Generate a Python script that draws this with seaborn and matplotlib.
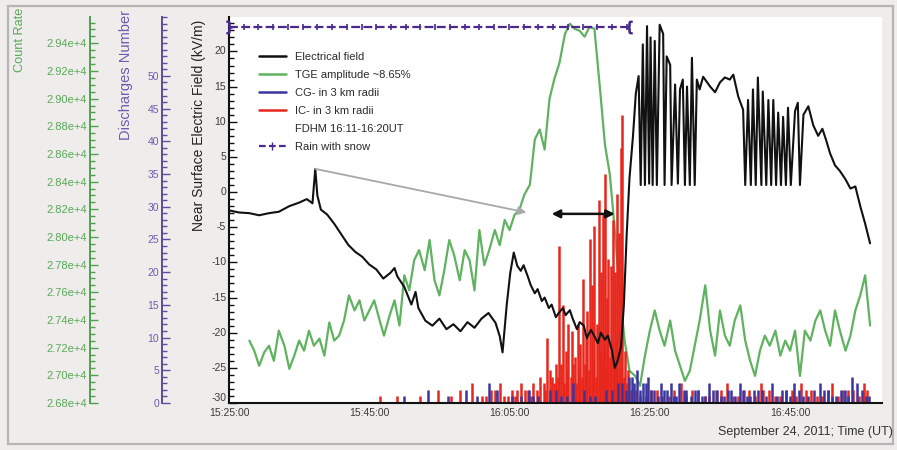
import matplotlib
matplotlib.use("Agg")
import numpy as np
import pandas as pd
import matplotlib.pyplot as plt
import matplotlib.transforms as mtransforms
from matplotlib.lines import Line2D
from matplotlib.patches import Rectangle
from matplotlib.ticker import MultipleLocator, FuncFormatter
import seaborn as sns

sns.set_theme(style="white")
plt.rcParams["font.family"] = ["Liberation Sans", "DejaVu Sans"]
plt.rcParams["axes.unicode_minus"] = False

# ---------------------------------------------------------------- data
T0 = "15:25:00"
time_ticks = ["15:25:00", "15:45:00", "16:05:00", "16:25:00", "16:45:00"]

# near-surface electric field (kV/m); time in minutes after 15:25 UT
ef_t = [0.0, 1.4, 2.9, 4.3, 5.7, 7.1, 8.6, 10.0, 11.1, 11.9, 12.3, 12.6, 13.1, 14.0,
        15.0, 16.0, 17.0, 18.0, 19.0, 20.0, 21.0, 22.0, 23.0, 23.6, 24.0, 25.0, 26.0,
        26.6, 27.0, 28.0, 29.0, 30.0, 31.0, 32.0, 33.0, 34.0, 35.0, 36.0, 37.0, 38.0,
        38.6, 39.0, 39.6, 40.1, 40.6, 41.1, 41.6, 42.0, 42.6, 43.0, 43.6, 44.0, 44.6,
        45.0, 45.6, 46.0, 46.6, 47.0, 47.6, 48.0, 48.6, 49.0, 49.6, 50.0, 50.6, 51.0,
        51.6, 52.0, 52.6, 53.0, 53.6, 54.0, 54.6, 55.0, 55.4, 55.9, 56.3, 56.7, 57.1,
        57.6, 58.0, 58.4, 58.7, 59.0, 59.3, 59.6, 59.9, 60.1, 60.4, 60.7, 61.0, 61.4,
        61.9, 62.1, 62.4, 62.9, 63.1, 63.6, 64.0, 64.3, 64.7, 65.0, 65.3, 65.7, 66.0,
        66.4, 66.7, 67.1, 67.6, 68.6, 69.3, 70.0, 70.7, 71.4, 71.9, 72.6, 73.3, 73.6,
        74.0, 74.4, 74.7, 75.1, 75.4, 75.9, 76.1, 76.6, 76.9, 77.3, 77.6, 78.0, 78.3,
        78.7, 79.0, 79.4, 79.7, 80.1, 80.7, 81.1, 81.4, 81.9, 82.6, 83.3, 84.0, 84.6,
        85.1, 85.7, 86.4, 87.1, 87.9, 88.6, 89.3, 90.0, 90.7, 91.4]
ef_v = [-2.6, -2.9, -3.0, -3.3, -3.0, -2.8, -2.0, -1.5, -1.0, -1.6, 3.3, -0.5, -2.5, -3.2,
        -4.5, -6.0, -7.5, -8.5, -9.2, -10.3, -11.0, -12.3, -11.5, -10.8, -12.0, -13.5, -16.0,
        -14.2, -16.5, -18.3, -19.0, -18.0, -19.5, -18.8, -19.8, -18.5, -19.3, -18.0, -17.2, -18.6,
        -20.5, -22.8, -16.0, -11.5, -8.6, -10.5, -11.2, -10.4, -12.0, -13.2, -14.4, -13.8, -15.5,
        -15.0, -16.5, -16.0, -17.8, -17.2, -16.5, -17.5, -16.8, -18.0, -19.5, -18.5, -19.0, -20.8,
        -19.6, -20.3, -21.5, -20.0, -21.0, -20.4, -22.5, -25.0, -24.0, -22.0, -16.0, -6.0, 2.0,
        8.0, 14.0, 16.5, 1.0, 21.0, 1.0, 23.6, 1.2, 22.0, 1.0, 21.5, 1.0, 23.8,
        22.5, 1.0, 19.3, 18.1, 1.0, 15.3, 1.2, 14.6, 16.0, 1.0, 15.0, 1.0, 19.1,
        1.0, 16.0, 14.6, 16.4, 15.0, 14.2, 15.6, 16.3, 16.0, 16.7, 13.6, 11.7, 1.0,
        13.1, 1.0, 14.6, 1.0, 16.3, 1.0, 14.3, 1.0, 13.1, 1.0, 13.1, 1.0, 11.3,
        1.0, 10.7, 1.0, 12.0, 1.0, 11.5, 12.7, 1.0, 11.0, 12.2, 9.5, 8.0, 9.0,
        7.5, 5.5, 3.8, 3.0, 1.8, 0.5, 0.8, -2.0, -4.5, -7.3]

# TGE count rate
tge_t = [2.9, 3.6, 4.3, 5.0, 5.7, 6.4, 7.1, 7.9, 8.6, 9.3, 10.0, 10.7, 11.4, 12.1, 12.9,
         13.6, 14.3, 15.0, 15.7, 16.4, 17.1, 17.9, 18.6, 19.3, 20.0, 20.7, 21.4, 22.1, 22.9,
         23.6, 24.3, 25.0, 25.7, 26.4, 27.1, 27.9, 28.6, 29.3, 30.0, 30.7, 31.4, 32.1, 32.9,
         33.6, 34.3, 35.0, 35.7, 36.4, 37.1, 37.9, 38.6, 39.3, 40.0, 40.7, 41.4, 42.1, 42.9,
         43.6, 44.3, 45.0, 45.7, 46.4, 47.1, 47.9, 48.6, 49.3, 50.0, 50.7, 51.4, 52.1, 52.9,
         53.6, 54.3, 55.0, 55.7, 56.4, 57.1, 57.9, 58.6, 59.3, 60.0, 60.7, 61.4, 62.1, 62.9,
         63.6, 64.3, 65.0, 65.7, 66.4, 67.1, 67.9, 68.6, 69.3, 70.0, 70.7, 71.4, 72.1, 72.9,
         73.6, 74.3, 75.0, 75.7, 76.4, 77.1, 77.9, 78.6, 79.3, 80.0, 80.7, 81.4, 82.1, 82.9,
         83.6, 84.3, 85.0, 85.7, 86.4, 87.1, 87.9, 88.6, 89.3, 90.0, 90.7, 91.4]
tge_counts = [27251, 27178, 27069, 27164, 27214, 27105, 27323, 27214, 27047, 27142, 27251,
              27178, 27323, 27214, 27265, 27142, 27382, 27251, 27287, 27396, 27578, 27469,
              27542, 27396, 27469, 27542, 27411, 27287, 27433, 27542, 27360, 27723, 27614,
              27832, 27905, 27760, 27978, 27687, 27578, 27760, 27978, 27869, 27687, 27905,
              27832, 27614, 28050, 27796, 27905, 28050, 27941, 28123, 28050, 28159, 28196,
              28305, 28378, 28705, 28777, 28632, 29000, 29145, 29255, 29468, 29541, 29504,
              29490, 29447, 29519, 29504, 29068, 28668, 28450, 28050, 27614, 27251, 27033,
              26996, 26924, 27142, 27323, 27469, 27323, 27214, 27396, 27178, 27069, 26960,
              27033, 27214, 27396, 27651, 27323, 27142, 27469, 27287, 27214, 27396, 27505,
              27251, 27105, 26996, 27178, 27287, 27214, 27323, 27142, 27251, 27178, 27323,
              26996, 27323, 27251, 27396, 27469, 27323, 27214, 27469, 27323, 27178, 27287,
              27469, 27578, 27723, 27360]

# cloud-to-ground discharges within 3 km
cg_t = [25.0, 28.4, 31.2, 33.8, 35.4, 37.0, 38.2, 40.4, 41.6, 42.8, 43.4, 44.0, 45.8,
        46.6, 47.4, 48.2, 49.0, 50.6, 51.4, 52.2, 53.8, 54.6, 55.4, 56.0, 56.6, 57.0,
        57.4, 57.8, 58.2, 58.6, 59.0, 59.4, 59.8, 60.2, 60.6, 61.1, 61.6, 62.0, 62.4,
        63.0, 63.4, 63.8, 64.2, 64.8, 65.2, 65.8, 66.4, 66.9, 67.4, 67.9, 68.4, 69.0,
        69.6, 70.1, 70.6, 71.1, 71.6, 72.2, 72.8, 73.3, 73.8, 74.3, 74.8, 75.4, 76.0,
        76.6, 77.4, 78.2, 78.8, 79.4, 80.0, 80.6, 81.2, 81.8, 82.6, 83.4, 84.2, 84.8,
        85.4, 86.0, 86.6, 87.2, 87.8, 88.3, 88.8, 89.6, 90.2, 90.8, 91.2]
cg_n = [1, 2, 1, 2, 1, 3, 2, 1, 1, 2, 1, 1, 2,
        2, 1, 1, 3, 2, 1, 1, 2, 2, 3, 3, 2, 4,
        4, 3, 5, 2, 3, 3, 4, 2, 2, 1, 3, 2, 2,
        3, 1, 1, 3, 2, 2, 1, 2, 2, 1, 1, 3, 2,
        2, 1, 1, 2, 2, 1, 3, 2, 1, 1, 2, 2, 2,
        1, 3, 1, 2, 2, 1, 3, 2, 1, 1, 2, 3, 2,
        2, 1, 1, 2, 2, 1, 4, 3, 2, 1, 1]

# intracloud discharges within 3 km
ic_t = [21.5, 24.0, 27.2, 29.8, 31.6, 33.0, 34.6, 36.0, 36.6, 37.4, 37.9, 38.6, 39.2,
        39.8, 40.3, 40.8, 41.0, 41.6, 42.2, 42.6, 43.0, 43.4, 43.9, 44.4, 44.9, 45.1,
        45.4, 45.7, 46.0, 46.3, 46.6, 46.9, 47.1, 47.3, 47.6, 47.8, 48.0, 48.2, 48.4,
        48.7, 48.9, 49.1, 49.3, 49.5, 49.7, 49.9, 50.1, 50.3, 50.4, 50.7, 50.9, 51.1,
        51.3, 51.4, 51.7, 51.9, 52.1, 52.3, 52.4, 52.7, 52.9, 53.0, 53.1, 53.3, 53.5,
        53.6, 53.8, 53.9, 54.1, 54.3, 54.4, 54.7, 54.9, 55.0, 55.2, 55.3, 55.6, 55.8,
        55.9, 56.1, 56.3, 56.4, 56.7, 56.9, 57.3, 58.0, 58.6, 59.5, 60.2, 61.0, 61.8,
        62.8, 63.4, 64.5, 65.2, 66.0, 66.8, 67.8, 68.4, 69.4, 70.2, 71.0, 71.8, 72.5,
        73.4, 74.2, 75.0, 75.8, 76.2, 77.0, 77.8, 78.6, 79.4, 80.2, 80.8, 81.5, 82.2,
        83.0, 83.8, 84.6, 85.4, 86.0, 86.8, 87.5, 88.2, 89.0, 89.8, 90.5, 91.0]
ic_n = [1, 1, 1, 2, 1, 2, 3, 1, 1, 2, 2, 3, 1,
        1, 2, 1, 2, 3, 2, 2, 1, 3, 2, 4, 3, 2,
        10, 5, 4, 3, 6, 4, 24, 6, 15, 3, 8, 5, 12,
        4, 11, 6, 7, 3, 12, 5, 9, 4, 19, 6, 10, 14,
        5, 25, 18, 7, 27, 4, 12, 31, 8, 20, 6, 29, 9,
        35, 5, 16, 22, 7, 21, 28, 6, 20, 10, 32, 26, 5,
        39, 44, 4, 8, 3, 5, 2, 2, 1, 1, 2, 2, 1,
        1, 2, 3, 1, 2, 2, 1, 1, 2, 2, 3, 1, 1,
        2, 2, 1, 3, 2, 2, 1, 1, 2, 2, 1, 3, 2,
        2, 1, 1, 2, 3, 1, 2, 2, 2, 1, 3, 2]

rain_span = ["15:25:00", "16:22:00"]
fdhm_span = ["16:11:00", "16:20:00"]

legend_labels = ["Electrical field", "TGE amplitude ~8.65%", "CG- in 3 km radii",
                 "IC- in 3 km radii", "FDHM 16:11-16:20UT", "Rain with snow"]


def to_min(hms):
    h, m, s = (int(p) for p in hms.split(":"))
    h0, m0, s0 = (int(p) for p in T0.split(":"))
    return (h * 3600 + m * 60 + s - (h0 * 3600 + m0 * 60 + s0)) / 60.0


ef = pd.DataFrame({"t": ef_t, "v": ef_v})
tge = pd.DataFrame({"t": tge_t, "c": tge_counts})

# ---------------------------------------------------------------- colours
C_EF = "#111111"
C_TGE = "#5fb25f"
C_CG = "#3b35a0"
C_IC = "#e8261c"
C_RAIN = "#4a2a8e"
C_CNT_AX = "#4f9f4f"
C_DIS_AX = "#5a4c9e"
BG = "#efedeb"

W, H = 897, 450
fig = plt.figure(figsize=(W / 100, H / 100), dpi=100, facecolor=BG)
fig.patches.append(Rectangle((8 / W, 6 / H), (893 - 8) / W, (444 - 6) / H,
                             transform=fig.transFigure, fill=False,
                             edgecolor="#b5b5b5", lw=1.6, zorder=0))

ax = fig.add_axes([229 / W, (H - 403) / H, (882 - 229) / W, (403 - 17) / H])
ax_d = ax.twinx()
ax_c = ax.twinx()

ax.set_zorder(3)
ax_d.set_zorder(2)
ax_c.set_zorder(1)
ax.patch.set_visible(False)
ax_d.patch.set_visible(False)
ax_c.patch.set_visible(True)
ax_c.set_facecolor("white")

# ---------------------------------------------------------------- series
sns.lineplot(data=tge, x="t", y="c", ax=ax_c, color=C_TGE, lw=1.6, estimator=None)
ax_d.vlines(ic_t, 0, ic_n, color=C_IC, lw=1.8)
ax_d.vlines(cg_t, 0, cg_n, color=C_CG, lw=1.8)
sns.lineplot(data=ef, x="t", y="v", ax=ax, color=C_EF, lw=1.5, estimator=None)

# rain with snow interval
trans = mtransforms.blended_transform_factory(ax.transData, ax.transAxes)
r0, r1 = to_min(rain_span[0]), to_min(rain_span[1])
rain_y = 0.975
ax.plot([r0, r1], [rain_y, rain_y], transform=trans, color=C_RAIN, lw=1.6,
        ls=(0, (4, 1.5)), clip_on=False, zorder=5)
tick_x = np.arange(r0 + 2.1, r1, 2.1)
ax.plot(tick_x, np.full(len(tick_x), rain_y), transform=trans, ls="none", marker="|",
        ms=5, mew=1.2, color=C_RAIN, clip_on=False, zorder=5)
ax.plot([r0], [rain_y], transform=trans, ls="none", marker="$\\}$", ms=9,
        color=C_RAIN, clip_on=False, zorder=6)
ax.plot([r1], [rain_y], transform=trans, ls="none", marker="$\\{$", ms=9,
        color=C_RAIN, clip_on=False, zorder=6)

# arrow from the field spike to the FDHM window
i_spike = int(np.argmax(ef["v"].values[:20]))
f0, f1 = to_min(fdhm_span[0]), to_min(fdhm_span[1])
arrow_level = -3.1
ax.annotate("", xy=(f0 - 3.6, arrow_level + 0.2),
            xytext=(ef["t"][i_spike], ef["v"][i_spike]),
            arrowprops=dict(arrowstyle="-|>", color="#a8a8a8", lw=1.3,
                            mutation_scale=12, shrinkA=0, shrinkB=0), zorder=6)
ax.annotate("", xy=(f1, arrow_level), xytext=(f0, arrow_level),
            arrowprops=dict(arrowstyle="<|-|>", color="#111111", lw=1.8,
                            mutation_scale=12, shrinkA=0, shrinkB=0), zorder=6)

# ---------------------------------------------------------------- axes
ax.set_xlim(0, 93.1)
ax.set_ylim(-30, 24.9)
ax_d.set_ylim(0, 59)
ax_c.set_ylim(26800, 29590)

ax.set_xticks([to_min(t) for t in time_ticks])
ax.set_xticklabels(time_ticks)
ax.xaxis.set_minor_locator(MultipleLocator(2))
ax.set_yticks(np.arange(-30, 21, 5))
ax.yaxis.set_minor_locator(MultipleLocator(1))
ax.set_xlabel("")
ax.set_ylabel("")

for sp in ["top", "right"]:
    ax.spines[sp].set_visible(False)
for sp in ["left", "bottom"]:
    ax.spines[sp].set_color("#111111")
    ax.spines[sp].set_linewidth(1.5)
ax.tick_params(axis="both", which="both", direction="in", colors="#111111",
               labelcolor="#3a3a3a", labelsize=7.5, width=1.0)
ax.tick_params(axis="y", which="major", length=6, pad=2)
ax.tick_params(axis="y", which="minor", length=3.5)
ax.tick_params(axis="x", which="major", length=5, pad=3.5)
ax.tick_params(axis="x", which="minor", length=3)
for lbl in ax.get_yticklabels():
    lbl.set_va("bottom" if lbl.get_text() == "-30" else "center")

for a, pos, col, lab in [(ax_d, -0.1026, C_DIS_AX, "#6a5cb0"),
                         (ax_c, -0.2129, C_CNT_AX, "#58a858")]:
    a.yaxis.tick_left()
    a.yaxis.set_label_position("left")
    a.spines["left"].set_visible(True)
    a.spines["left"].set_position(("axes", pos))
    a.spines["left"].set_color(col)
    a.spines["left"].set_linewidth(1.4)
    for sp in ["right", "top", "bottom"]:
        a.spines[sp].set_visible(False)
    a.tick_params(axis="y", which="both", direction="in", colors=col,
                  labelcolor=lab, labelsize=7.5, width=1.0, pad=2)
    a.tick_params(axis="y", which="major", length=6)
    a.tick_params(axis="y", which="minor", length=3.5)
    a.set_ylabel("")

ax_d.set_yticks(np.arange(0, 51, 5))
ax_d.yaxis.set_minor_locator(MultipleLocator(1))
ax_c.set_yticks(np.arange(26800, 29401, 200))
ax_c.yaxis.set_minor_locator(MultipleLocator(50))
ax_c.yaxis.set_major_formatter(FuncFormatter(lambda v, p: f"{v / 1e4:.2f}e+4"))
ax_c.tick_params(axis="y", labelsize=8)

# axis titles
fig.text(20 / W, 1 - 8 / H, "Count Rate", rotation=90, va="top", ha="center",
         fontsize=9.2, color="#58a858")
fig.text(126 / W, 1 - 10 / H, "Discharges Number", rotation=90, va="top", ha="center",
         fontsize=10.5, color="#6a5cb0")
fig.text(199 / W, 1 - 20 / H, "Near Surface Electric Field (kV/m)", rotation=90,
         va="top", ha="center", fontsize=10, color="#222222")
fig.text(893 / W, 1 - 432 / H, "September 24, 2011; Time (UT)", ha="right",
         va="center", fontsize=9, color="#333333")

# legend
handles = [
    Line2D([], [], color=C_EF, lw=1.8),
    Line2D([], [], color=C_TGE, lw=1.8),
    Line2D([], [], color=C_CG, lw=1.8),
    Line2D([], [], color=C_IC, lw=1.8),
    Line2D([], [], color="none", lw=0),
    Line2D([], [], color=C_RAIN, lw=1.6, ls=(0, (3, 1.5)), marker="|", ms=6),
]
leg = ax.legend(handles, legend_labels, loc="upper left",
                bbox_to_anchor=(259 / W, 1 - 52 / H), bbox_transform=fig.transFigure,
                frameon=False, fontsize=8.0, handlelength=2.4, handletextpad=0.8,
                labelspacing=0.72, borderpad=0, borderaxespad=0)
for t in leg.get_texts():
    t.set_color("#2a2a2a")

fig.savefig("out.png", dpi=100, facecolor=fig.get_facecolor())
